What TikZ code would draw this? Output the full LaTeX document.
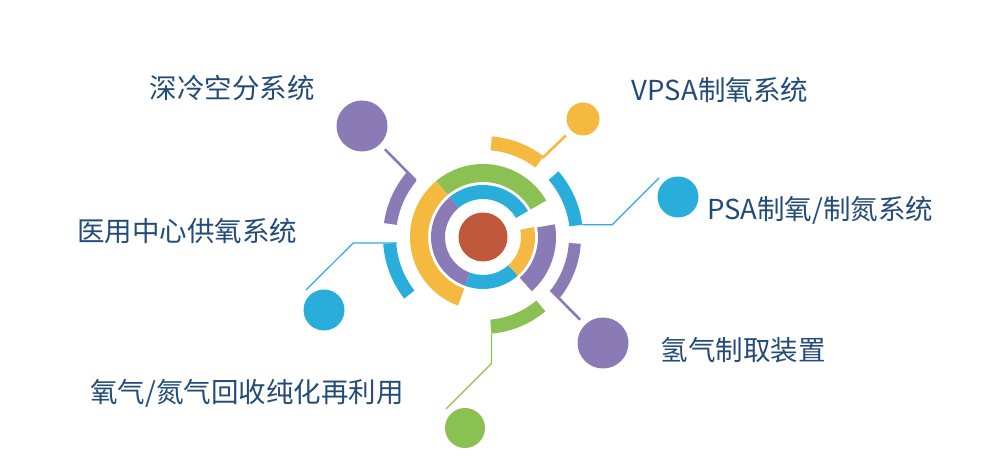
\documentclass[tikz,border=0pt]{standalone}
\usepackage{fontspec}
\setmainfont{Noto Sans CJK SC}
\usepackage{tikz}
\usetikzlibrary{calc}
\definecolor{ringpurple}{RGB}{138,122,182}
\definecolor{ringyellow}{RGB}{246,185,64}
\definecolor{ringblue}{RGB}{41,174,219}
\definecolor{ringgreen}{RGB}{139,192,82}
\definecolor{corered}{RGB}{192,88,59}
\definecolor{labelblue}{RGB}{35,75,120}

% colour, from angle, to angle, inner radius, outer radius
\newcommand{\ringseg}[5]{%
  \fill[#1] (#2:#5pt) arc[start angle=#2,end angle=#3,radius=#5pt]
    -- (#3:#4pt) arc[start angle=#3,end angle=#2,radius=#4pt] -- cycle;}

\begin{document}
\begin{tikzpicture}[
    x=1pt,y=1pt,
    every node/.style={font=\fontsize{27.5}{32}\selectfont,text=labelblue},
    bubble/.style={circle,inner sep=0pt,minimum size=#1},
    thinlink/.style={line width=1.2pt},
    thicklink/.style={line width=2.6pt,shorten >=7pt}
  ]
    \useasboundingbox (0,0) rectangle (991,462);
    \node[bubble=49pt,fill=corered] (core) at (483,225) {};
    \begin{scope}[shift={(core.center)}]
      % inner ring
      \ringseg{ringblue}{30}{130}{38}{52}
      \ringseg{ringpurple}{130}{250}{38}{52}
      \ringseg{ringblue}{250}{312}{38}{52}
      \ringseg{ringyellow}{-48}{11}{38}{52}
      % middle ring
      \ringseg{ringgreen}{30}{130}{55}{73}
      \ringseg{ringyellow}{130}{250}{55}{73}
      \ringseg{ringpurple}{-48}{10}{55}{73}
      % outer ring
      \ringseg{ringpurple}{140}{172}{87}{100}
      \ringseg{ringblue}{184}{218}{87}{100}
      \ringseg{ringblue}{7}{41}{87}{100}
      \ringseg{ringpurple}{-38}{-4}{86}{98}
      \ringseg{ringyellow}{53}{85}{87}{101}
      \ringseg{ringgreen}{-85}{-50}{83}{97}
      % where the links leave the ring
      \coordinate (sUL) at (140:88pt);
      \coordinate (sY) at (53:99pt);
      \coordinate (sR) at (7:100pt);
      \coordinate (sL) at (184:86pt);
      \coordinate (sLR) at (-38:86pt);
      \coordinate (sG) at (-85:97pt);
    \end{scope}

    \node[bubble=51pt,fill=ringpurple] (pUL) at (362,336) {};
    \node[bubble=33pt,fill=ringyellow] (pY) at (583,343) {};
    \node[bubble=41pt,fill=ringblue] (pR) at (678,265) {};
    \node[bubble=41pt,fill=ringblue] (pL) at (324,152) {};
    \node[bubble=51pt,fill=ringpurple] (pLR) at (603,119) {};
    \node[bubble=40pt,fill=ringgreen] (pG) at (465,34) {};

    \coordinate (eR) at (659,284);
    \coordinate (eL) at (306,172);
    \coordinate (eG) at (446,53);

    \draw[ringpurple,thicklink] (sUL) -- (pUL);
    \draw[ringyellow,thicklink] (sY) -- (pY);
    \draw[ringpurple,thicklink] (sLR) -- (pLR);
    \draw[ringblue,thinlink] (sR) -- ++(30,0) -- (eR);
    \draw[ringblue,thinlink] (sL) -- ++(-44,0) -- (eL);
    \draw[ringgreen,thinlink] (sG) -- ++(0,-30) -- (eG);

    \node (tDeep) at (232,374) {深冷空分系统};
    \node (tVpsa) at (720,372) {VPSA制氧系统};
    \node (tPsa) at (820,252) {PSA制氧/制氮系统};
    \node (tMed) at (187,231) {医用中心供氧系统};
    \node (tHyd) at (743,112) {氢气制取装置};
    \node (tRec) at (247,69) {氧气/氮气回收纯化再利用};
\end{tikzpicture}
\end{document}
